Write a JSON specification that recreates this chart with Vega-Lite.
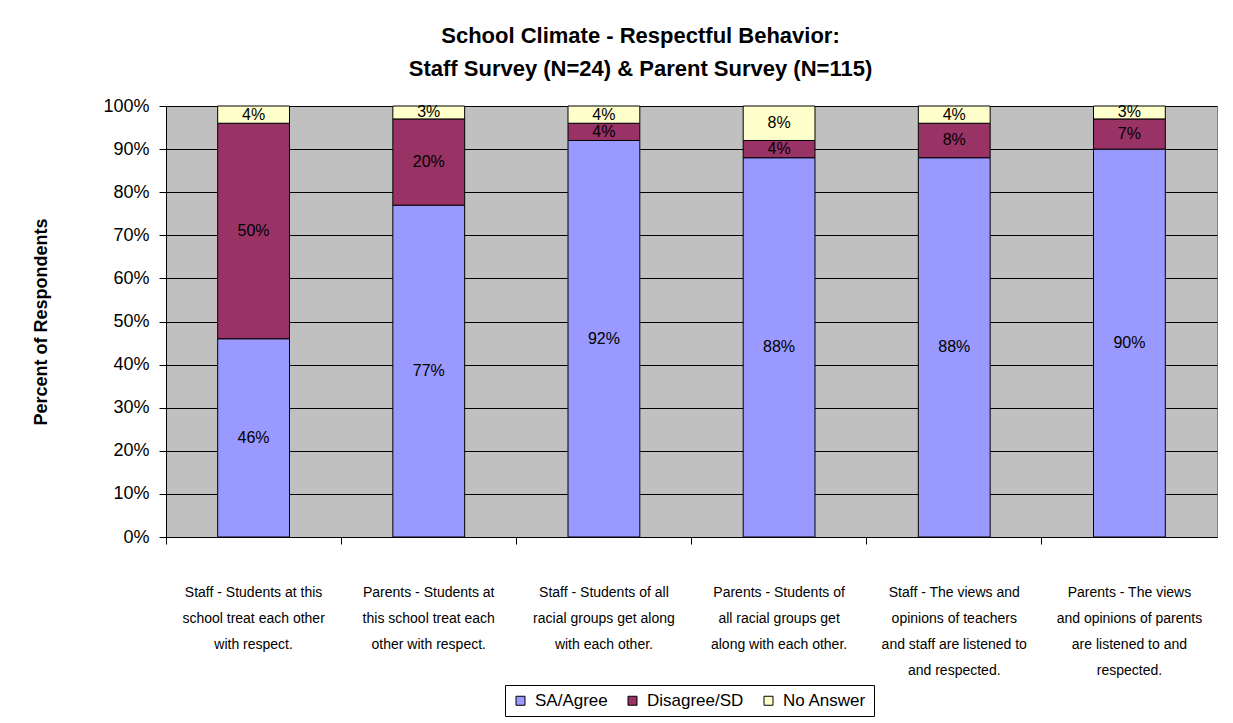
{
  "$schema": "https://vega.github.io/schema/vega-lite/v6.json",
  "autosize": {"type": "none"},
  "width": 1051,
  "height": 431,
  "padding": {"left": 166, "top": 106, "right": 16, "bottom": 186},
  "background": "white",
  "config": {
    "font": "Liberation Sans",
    "view": {"fill": "#C0C0C0", "stroke": "#808080", "strokeWidth": 1}
  },
  "title": {
    "text": ["School Climate - Respectful Behavior:", "Staff Survey (N=24) & Parent Survey (N=115)"],
    "fontSize": 22,
    "fontWeight": "bold",
    "color": "black",
    "lineHeight": 33,
    "anchor": "middle",
    "dx": -51,
    "offset": 16
  },
  "data": {
    "values": [
      {"q": "Staff - Students at this|school treat each other|with respect.", "resp": "SA/Agree", "o": 1, "value": 0.46},
      {"q": "Staff - Students at this|school treat each other|with respect.", "resp": "Disagree/SD", "o": 2, "value": 0.50},
      {"q": "Staff - Students at this|school treat each other|with respect.", "resp": "No Answer", "o": 3, "value": 0.04},
      {"q": "Parents -  Students at|this school treat each|other with respect.", "resp": "SA/Agree", "o": 1, "value": 0.77},
      {"q": "Parents -  Students at|this school treat each|other with respect.", "resp": "Disagree/SD", "o": 2, "value": 0.20},
      {"q": "Parents -  Students at|this school treat each|other with respect.", "resp": "No Answer", "o": 3, "value": 0.03},
      {"q": "Staff - Students of all|racial groups get along|with each other.", "resp": "SA/Agree", "o": 1, "value": 0.92},
      {"q": "Staff - Students of all|racial groups get along|with each other.", "resp": "Disagree/SD", "o": 2, "value": 0.04},
      {"q": "Staff - Students of all|racial groups get along|with each other.", "resp": "No Answer", "o": 3, "value": 0.04},
      {"q": "Parents -  Students of|all racial groups get|along with each other.", "resp": "SA/Agree", "o": 1, "value": 0.88},
      {"q": "Parents -  Students of|all racial groups get|along with each other.", "resp": "Disagree/SD", "o": 2, "value": 0.04},
      {"q": "Parents -  Students of|all racial groups get|along with each other.", "resp": "No Answer", "o": 3, "value": 0.08},
      {"q": "Staff - The views and|opinions of teachers|and staff are listened to|and respected.", "resp": "SA/Agree", "o": 1, "value": 0.88},
      {"q": "Staff - The views and|opinions of teachers|and staff are listened to|and respected.", "resp": "Disagree/SD", "o": 2, "value": 0.08},
      {"q": "Staff - The views and|opinions of teachers|and staff are listened to|and respected.", "resp": "No Answer", "o": 3, "value": 0.04},
      {"q": "Parents -  The views|and opinions of parents|are listened to and|respected.", "resp": "SA/Agree", "o": 1, "value": 0.90},
      {"q": "Parents -  The views|and opinions of parents|are listened to and|respected.", "resp": "Disagree/SD", "o": 2, "value": 0.07},
      {"q": "Parents -  The views|and opinions of parents|are listened to and|respected.", "resp": "No Answer", "o": 3, "value": 0.03}
    ]
  },
  "transform": [
    {"stack": "value", "groupby": ["q"], "sort": [{"field": "o", "order": "ascending"}], "as": ["v0", "v1"]},
    {"calculate": "(datum.v0 + datum.v1) / 2", "as": "mid"}
  ],
  "encoding": {
    "x": {
      "field": "q",
      "type": "nominal",
      "sort": null,
      "scale": {"paddingInner": 0.59, "paddingOuter": 0.295},
      "axis": {
        "title": null,
        "labelExpr": "split(datum.label, '|')",
        "labelAngle": 0,
        "labelFontSize": 14,
        "labelColor": "black",
        "labelLineHeight": 26,
        "labelBaseline": "top",
        "labelPadding": 41,
        "labelLimit": 0,
        "bandPosition": -0.7195,
        "ticks": true,
        "tickSize": 7,
        "tickColor": "black",
        "domainColor": "black",
        "grid": false
      }
    }
  },
  "layer": [
    {
      "mark": {"type": "bar", "stroke": "black", "strokeWidth": 1},
      "encoding": {
        "y": {
          "field": "v0",
          "type": "quantitative",
          "scale": {"domain": [0, 1], "nice": false},
          "axis": {
            "title": "Percent of Respondents",
            "titleFontSize": 18,
            "titleFontWeight": "bold",
            "titleColor": "black",
            "titlePadding": 52,
            "values": [0, 0.1, 0.2, 0.3, 0.4, 0.5, 0.6, 0.7, 0.8, 0.9, 1],
            "format": ".0%",
            "labelFontSize": 18,
            "labelColor": "black",
            "labelPadding": 10,
            "tickSize": 7,
            "tickColor": "black",
            "domainColor": "black",
            "grid": true,
            "gridColor": "black",
            "gridOpacity": 1,
            "gridWidth": 1
          }
        },
        "y2": {"field": "v1"},
        "color": {
          "field": "resp",
          "type": "nominal",
          "scale": {"domain": ["SA/Agree", "Disagree/SD", "No Answer"], "range": ["#9999FF", "#993366", "#FFFFCC"]},
          "legend": {
            "orient": "none",
            "legendX": 339,
            "legendY": 579,
            "direction": "horizontal",
            "title": null,
            "labelFontSize": 17,
            "labelColor": "black",
            "symbolType": "square",
            "symbolSize": 81,
            "symbolStrokeColor": "black",
            "symbolStrokeWidth": 1,
            "strokeColor": "black",
            "fillColor": "white",
            "padding": 7,
            "columnPadding": 16,
            "labelOffset": 6
          }
        }
      }
    },
    {
      "mark": {"type": "text", "fontSize": 16, "color": "black", "align": "center", "baseline": "middle"},
      "encoding": {
        "y": {"field": "mid", "type": "quantitative"},
        "text": {"field": "value", "type": "quantitative", "format": ".0%"}
      }
    }
  ]
}
